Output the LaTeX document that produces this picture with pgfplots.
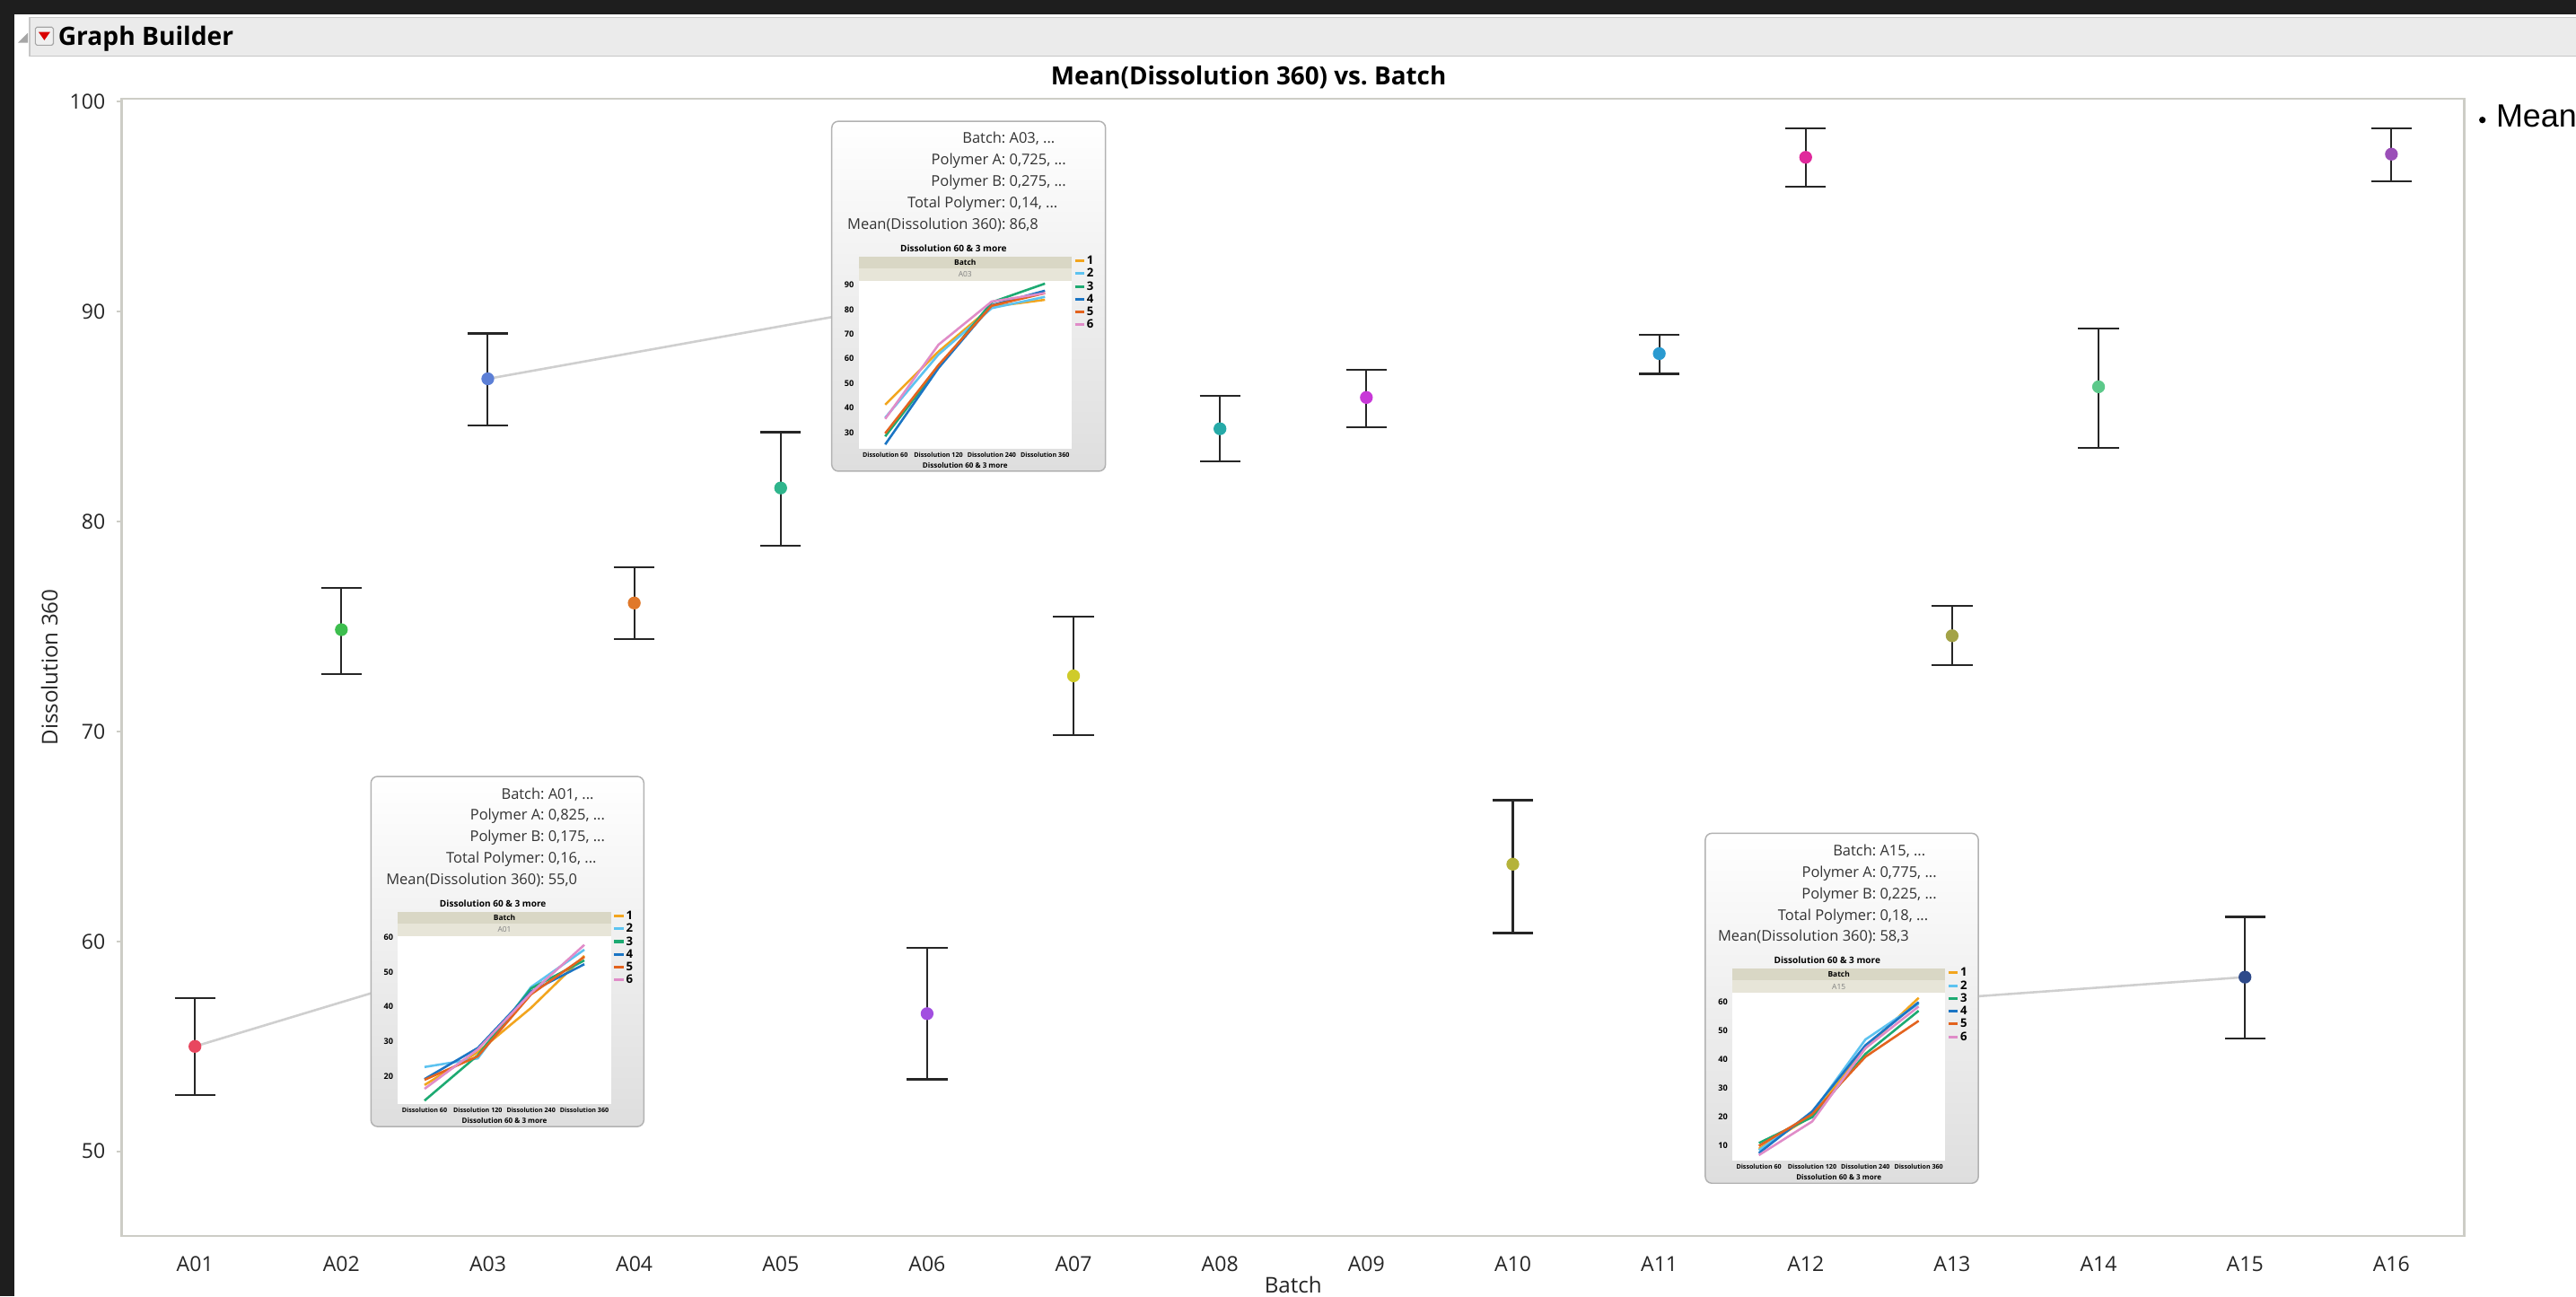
\documentclass[border=0pt]{standalone}
\usepackage{fontspec}
\setmainfont{Open Sans}
\newfontfamily\legfont{Liberation Sans}
\usepackage{pgfplots}
\usepackage{pgfplotstable}
\pgfplotsset{compat=1.18}

\definecolor{darkbg}{HTML}{1E1E1E}
\definecolor{hdr}{HTML}{EBEBEB}
\definecolor{frame}{HTML}{CDCDC6}
\definecolor{conn}{HTML}{CFCFCF}
\definecolor{bandA}{HTML}{D9D7C5}
\definecolor{bandB}{HTML}{E7E5D8}
% series colours of the small charts
\definecolor{s1}{HTML}{F2A51E}
\definecolor{s2}{HTML}{5DC3F0}
\definecolor{s3}{HTML}{1DAA72}
\definecolor{s4}{HTML}{1B75C4}
\definecolor{s5}{HTML}{E3631E}
\definecolor{s6}{HTML}{E08CC8}
% point colours of the batches
\definecolor{p01}{HTML}{E8475F}
\definecolor{p02}{HTML}{3DBE4E}
\definecolor{p03}{HTML}{5C7FD6}
\definecolor{p04}{HTML}{E0782A}
\definecolor{p05}{HTML}{2FB58C}
\definecolor{p06}{HTML}{A24FE0}
\definecolor{p07}{HTML}{CFCB2A}
\definecolor{p08}{HTML}{26AAA8}
\definecolor{p09}{HTML}{C838D8}
\definecolor{p10}{HTML}{B5B33A}
\definecolor{p11}{HTML}{2A9AD0}
\definecolor{p12}{HTML}{E0299C}
\definecolor{p13}{HTML}{A3A347}
\definecolor{p14}{HTML}{5CC98A}
\definecolor{p15}{HTML}{2E4A8A}
\definecolor{p16}{HTML}{9B4FB8}

\newcommand{\fs}[1]{\fontsize{#1pt}{#1pt}\selectfont}

% mean and interval of Dissolution 360 per batch
\pgfplotstableread{
x m ep em
1 55.00 2.30 2.33
2 74.85 2.00 2.12
3 86.80 2.16 2.22
4 76.12 1.69 1.72
5 81.60 2.66 2.74
6 56.56 3.13 3.13
7 72.65 2.83 2.83
8 84.42 1.57 1.56
9 85.91 1.33 1.41
10 63.68 3.05 3.28
11 88.00 0.90 0.96
12 97.35 1.37 1.40
13 74.56 1.41 1.41
14 86.42 2.79 2.91
15 58.30 2.87 2.92
16 97.50 1.22 1.29
}\meandata

% dissolution profiles, batch A03
\pgfplotstableread{
t s1 s2 s3 s4 s5 s6
0 41.3 36.0 28.4 25.1 29.6 35.5
1 62.9 61.7 56.5 56.2 57.4 65.7
2 81.2 80.6 83.0 81.8 81.6 83.3
3 84.0 85.2 90.6 87.7 86.7 86.7
}\dissA
% batch A01
\pgfplotstableread{
t s1 s2 s3 s4 s5 s6
0 17.4 22.6 12.9 19.1 18.9 16.3
1 26.9 25.1 26.0 28.1 25.7 27.7
2 39.7 45.7 45.3 44.4 43.6 44.0
3 54.7 56.5 53.4 52.3 54.4 57.9
}\dissB
% batch A15
\pgfplotstableread{
t s1 s2 s3 s4 s5 s6
0 9.0 8.5 11.0 7.5 10.0 6.8
1 20.5 21.5 20.0 22.0 21.0 18.5
2 44.0 47.0 42.0 45.0 41.0 44.0
3 61.5 59.5 57.0 60.0 53.5 58.5
}\dissC

\pgfplotsset{
  dot/.style={only marks, mark=*, mark size=1.75pt, color=#1,
    mark options={draw=none, fill=#1}},
  inset/.style={
    anchor=south west, scale only axis, width=64.85pt, height=51.2pt,
    xmin=-0.5, xmax=3.5, xtick={0,1,2,3},
    xticklabels={Dissolution 60,Dissolution 120,Dissolution 240,Dissolution 360},
    axis line style={draw=none}, tick style={draw=none}, major tick length=0pt,
    axis background/.style={fill=white},
    /pgf/number format/assume math mode=true,
    xticklabel style={font=\bfseries\fs{1.95}, inner sep=0.3pt, yshift=-0.5pt},
    yticklabel style={font=\bfseries\fs{2.5}, inner sep=0.3pt, xshift=-0.9pt},
    xlabel={Dissolution 60 \& 3 more},
    xlabel style={font=\bfseries\fs{2.2}, at={(axis description cs:0.5,-0.098)}, anchor=center, inner sep=0pt},
    clip=false,
    cycle list={{s1},{s2},{s3},{s4},{s5},{s6}},
    every axis plot/.append style={line width=0.7pt, mark=none},
    legend style={at={(1.006,1.16)}, anchor=north west, draw=none, fill=none,
      font=\bfseries\fs{3.6}, inner sep=0pt, row sep=0pt,
      nodes={inner sep=0.35pt, text height=2.7pt, text depth=0.5pt}},
    legend cell align=left,
    legend image code/.code={\draw[#1, line width=0.85pt] (0pt,0pt) -- (2.8pt,0pt);},
  },
}

\newcommand{\bands}[2]{%
  \fill[bandA] (rel axis cs:0,1.1445) rectangle (rel axis cs:1,1.0723);
  \fill[bandB] (rel axis cs:0,1.0723) rectangle (rel axis cs:1,1);
  \node[font=\bfseries\fs{2.3}, inner sep=0pt] at (rel axis cs:0.5,1.108) {Batch};
  \node[font=\fs{2.3}, text=black!50, inner sep=0pt] at (rel axis cs:0.5,1.036) {#1};
  \node[font=\bfseries\fs{2.75}, inner sep=0pt] at (rel axis cs:#2,1.192) {Dissolution 60 \& 3 more};
}

\newcommand{\tip}[4]{%
  \node[font=\fs{4.5}, text=black!80, inner sep=0pt, anchor=mid east] at (#1,#2) {#3};
  \node[font=\fs{4.5}, text=black!80, inner sep=0pt, anchor=mid west] at ({#1+1.5},#2) {#4};
}

\begin{document}
\begin{tikzpicture}
% window background and header (1 unit = 1 px of the 1568 px wide view)
\begin{scope}[x=0.5pt,y=-0.5pt]
  \fill[darkbg] (0,0) rectangle (1568,789);
  \fill[white] (9,9) rectangle (1568,789);
  \filldraw[fill=hdr, draw=black!22, line width=0.4pt] (18,10.5) rectangle (1572,34);
  \fill[black!35] (11,26) -- (17,26) -- (17,20) -- cycle;
  \filldraw[fill=black!6, draw=black!35, line width=0.3pt, rounded corners=0.5pt] (21.5,16.5) rectangle (32.5,27.5);
  \fill[red!85!black] (23.5,19.5) -- (30.5,19.5) -- (27,24.5) -- cycle;
  \node[anchor=mid west, font=\bfseries\fs{7.7}, inner sep=0pt] at (35,22) {Graph Builder};
  \node[font=\bfseries\fs{7.6}, inner sep=0pt] at (760,47) {Mean(Dissolution 360) vs.\ Batch};
  \fill[black] (1511,73) circle (2);
  \node[anchor=mid west, font=\legfont\fs{9.8}, inner sep=0pt] at (1519,72) {Mean};
\end{scope}

% main chart
\begin{axis}[
  at={(37.05pt,-376.15pt)}, anchor=south west,
  scale only axis, width=713.05pt, height=346.1pt,
  xmin=0.5, xmax=16.5, ymin=45.97, ymax=100.14,
  xtick={1,...,16},
  xticklabels={A01,A02,A03,A04,A05,A06,A07,A08,A09,A10,A11,A12,A13,A14,A15,A16},
  ytick={50,60,...,100}, ytick pos=left,
  axis line style={frame, line width=0.8pt},
  xtick style={draw=none},
  ytick style={frame, line width=0.5pt},
  tick align=outside, major tick length=1.5pt,
  /pgf/number format/assume math mode=true,
  ticklabel style={font=\fs{6.3}, text=black!85},
  xticklabel style={yshift=-1.2pt},
  xlabel={Batch}, ylabel={Dissolution 360},
  label style={font=\fs{6.6}, text=black!85, inner sep=0pt},
  xlabel style={at={(axis description cs:0.5,-0.0433)}, anchor=center},
  ylabel style={at={(axis description cs:-0.0309,0.5)}, anchor=center},
]
  \draw[conn, line width=0.7pt] (axis cs:3,86.8) -- (axis cs:5.349,89.74);
  \draw[conn, line width=0.7pt] (axis cs:1,55.0) -- (axis cs:2.202,57.53);
  \draw[conn, line width=0.7pt] (axis cs:15,58.3) -- (axis cs:13.179,57.39);
  \addplot[draw=none, mark=none,
    error bars/.cd, y dir=both, y explicit,
    error bar style={draw=black!85, line width=0.55pt},
    error mark options={rotate=90, draw=black!85, line width=0.6pt, mark size=6.2pt}]
    table[x=x, y=m, y error plus=ep, y error minus=em] {\meandata};
  \addplot[dot=p01] coordinates {(1,55.00)};
  \addplot[dot=p02] coordinates {(2,74.85)};
  \addplot[dot=p03] coordinates {(3,86.80)};
  \addplot[dot=p04] coordinates {(4,76.12)};
  \addplot[dot=p05] coordinates {(5,81.60)};
  \addplot[dot=p06] coordinates {(6,56.56)};
  \addplot[dot=p07] coordinates {(7,72.65)};
  \addplot[dot=p08] coordinates {(8,84.42)};
  \addplot[dot=p09] coordinates {(9,85.91)};
  \addplot[dot=p10] coordinates {(10,63.68)};
  \addplot[dot=p11] coordinates {(11,88.00)};
  \addplot[dot=p12] coordinates {(12,97.35)};
  \addplot[dot=p13] coordinates {(13,74.56)};
  \addplot[dot=p14] coordinates {(14,86.42)};
  \addplot[dot=p15] coordinates {(15,58.30)};
  \addplot[dot=p16] coordinates {(16,97.50)};
\end{axis}

% hover boxes
\begin{scope}[x=0.5pt,y=-0.5pt]
  \draw[draw=black!30, line width=0.4pt, rounded corners=2pt, top color=white, middle color=white, bottom color=black!13]
    (506.3,73.8) rectangle (672.9,286.8);
  \tip{612.5}{82}{Batch:}{A03, ...}
  \tip{612.5}{95}{Polymer A:}{0,725, ...}
  \tip{612.5}{108}{Polymer B:}{0,275, ...}
  \tip{612.5}{121}{Total Polymer:}{0,14, ...}
  \tip{612.5}{134}{Mean(Dissolution 360):}{86,8}

  \draw[draw=black!30, line width=0.4pt, rounded corners=2pt, top color=white, middle color=white, bottom color=black!13]
    (225.8,472.6) rectangle (391.9,685.7);
  \tip{331.8}{481.1}{Batch:}{A01, ...}
  \tip{331.8}{493.9}{Polymer A:}{0,825, ...}
  \tip{331.8}{506.8}{Polymer B:}{0,175, ...}
  \tip{331.8}{520}{Total Polymer:}{0,16, ...}
  \tip{331.8}{533}{Mean(Dissolution 360):}{55,0}

  \draw[draw=black!30, line width=0.4pt, rounded corners=2pt, top color=white, middle color=white, bottom color=black!13]
    (1038,507.2) rectangle (1204.2,720.2);
  \tip{1142.4}{515.8}{Batch:}{A15, ...}
  \tip{1142.4}{528.7}{Polymer A:}{0,775, ...}
  \tip{1142.4}{541.8}{Polymer B:}{0,225, ...}
  \tip{1142.4}{554.9}{Total Polymer:}{0,18, ...}
  \tip{1142.4}{567.6}{Mean(Dissolution 360):}{58,3}
\end{scope}

% small chart, batch A03
\begin{axis}[inset, at={(261.3pt,-136.6pt)}, ymin=23.3, ymax=91.8, ytick={30,40,...,90}]
  \bands{A03}{0.446}
  \addplot table[x=t, y=s1] {\dissA};
  \addplot table[x=t, y=s2] {\dissA};
  \addplot table[x=t, y=s3] {\dissA};
  \addplot table[x=t, y=s4] {\dissA};
  \addplot table[x=t, y=s5] {\dissA};
  \addplot table[x=t, y=s6] {\dissA};
  \legend{1,2,3,4,5,6}
\end{axis}

% small chart, batch A01
\begin{axis}[inset, at={(121.1pt,-336pt)}, ymin=11.9, ymax=60.5, ytick={20,30,...,60}]
  \bands{A01}{0.446}
  \addplot table[x=t, y=s1] {\dissB};
  \addplot table[x=t, y=s2] {\dissB};
  \addplot table[x=t, y=s3] {\dissB};
  \addplot table[x=t, y=s4] {\dissB};
  \addplot table[x=t, y=s5] {\dissB};
  \addplot table[x=t, y=s6] {\dissB};
  \legend{1,2,3,4,5,6}
\end{axis}

% small chart, batch A15
\begin{axis}[inset, at={(527.2pt,-353.3pt)}, ymin=4.8, ymax=63.3, ytick={10,20,...,60}]
  \bands{A15}{0.446}
  \addplot table[x=t, y=s1] {\dissC};
  \addplot table[x=t, y=s2] {\dissC};
  \addplot table[x=t, y=s3] {\dissC};
  \addplot table[x=t, y=s4] {\dissC};
  \addplot table[x=t, y=s5] {\dissC};
  \addplot table[x=t, y=s6] {\dissC};
  \legend{1,2,3,4,5,6}
\end{axis}

% page = the window
\pgfresetboundingbox
\path[use as bounding box] (0pt,0pt) rectangle (784pt,-394.5pt);
\end{tikzpicture}
\end{document}
